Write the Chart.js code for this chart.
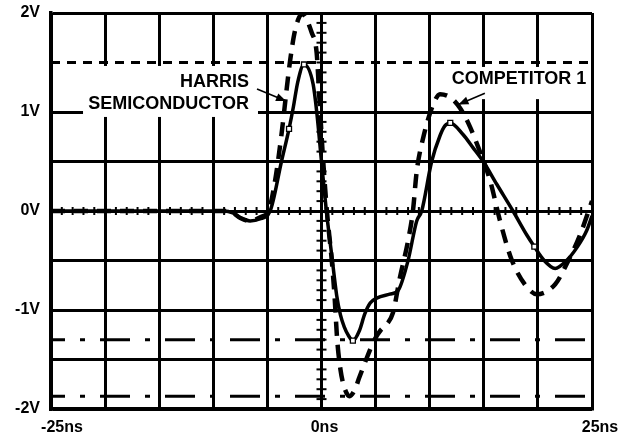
<!DOCTYPE html>
<html>
<head>
<title>Harris vs Competitor</title>
<script src="https://cdn.jsdelivr.net/npm/chart.js"></script>
<style>
  body { margin: 0; background: #fff; }
  #wrap { width: 635px; height: 438px; }
</style>
</head>
<body>
<div id="wrap"><canvas id="scope" width="635" height="438"></canvas></div>
<script>
// time in ns, level in V
const harrisT = [-25, -9, -8.2, -7.5, -6.6, -5.7, -4.75, -3.7, -3.0, -2.6, -2.2, -1.62, -0.77, -0.44, 0, 0.45, 0.95, 1.4, 1.75, 2.1, 2.5, 2.9, 3.5, 4.0, 4.5, 5.1, 6.3, 7.1, 8.0, 8.8, 9.26, 10.18, 10.95, 11.4, 11.9, 13.1, 14.0, 14.95, 16.2, 17.7, 18.96, 19.67, 20.5, 21.6, 22.65, 23.6, 24.5, 25];
const harrisV = [0, 0, -0.02, -0.07, -0.1, -0.08, 0, 0.5, 0.83, 1.05, 1.3, 1.48, 1.28, 1.0, 0.5, 0, -0.45, -0.85, -1.05, -1.17, -1.26, -1.31, -1.21, -1.04, -0.93, -0.88, -0.84, -0.8, -0.5, -0.1, 0, 0.5, 0.76, 0.86, 0.89, 0.77, 0.64, 0.5, 0.27, 0, -0.24, -0.36, -0.49, -0.58, -0.5, -0.37, -0.2, -0.05];

const compT = [-25, -9, -8.2, -7.5, -6.6, -5.6, -4.9, -4.3, -3.7, -3.2, -2.9, -2.45, -1.8, -0.9, -0.45, -0.2, 0.1, 0.5, 0.95, 1.2, 1.45, 1.75, 2.1, 2.6, 3.1, 3.5, 4.2, 4.9, 5.5, 6.0, 6.6, 7.25, 8.0, 8.45, 8.8, 9.4, 10.2, 10.95, 12.0, 12.8, 13.6, 14.5, 15.6, 16.5, 17.6, 19.0, 19.9, 21.6, 22.5, 23.9, 25];
const compV = [0, 0, -0.02, -0.07, -0.1, -0.06, 0, 0.3, 0.77, 1.25, 1.52, 1.82, 1.99, 1.8, 1.6, 1.15, 0.6, 0, -0.5, -0.85, -1.3, -1.6, -1.78, -1.87, -1.8, -1.68, -1.48, -1.3, -1.2, -1.15, -1.03, -0.67, -0.3, 0, 0.4, 0.74, 1.04, 1.18, 1.14, 1.04, 0.88, 0.64, 0.3, -0.1, -0.5, -0.77, -0.84, -0.74, -0.57, -0.24, 0.1];

// square markers on the Harris trace
const markT = [-3.0, -1.62, 2.9, 11.9, 19.67];
const markV = [0.83, 1.48, -1.31, 0.89, -0.36];

// reference levels
const dashedLevel = 1.5;
const dashDotLevels = [-1.3, -1.87];

const yTicks = [-2, -1, 0, 1, 2];
const xTickValues = [-25, 0, 25];
const xTickLabels = ['-25ns', '0ns', '25ns'];

const FONT = '"Liberation Sans", Arial, sans-serif';

const pts = (xs, ys) => xs.map((x, i) => ({ x: x, y: ys[i] }));
const level = v => [{ x: -25, y: v }, { x: 25, y: v }];

const datasets = [
  {
    label: 'markers', data: pts(markT, markV), showLine: false,
    pointStyle: 'rect', pointRadius: 3.5, pointBackgroundColor: '#fff',
    pointBorderColor: '#000', pointBorderWidth: 1.3
  },
  {
    label: 'HARRIS SEMICONDUCTOR', data: pts(harrisT, harrisV),
    borderColor: '#000', borderWidth: 3.5, pointRadius: 0,
    cubicInterpolationMode: 'monotone'
  },
  {
    label: 'COMPETITOR 1', data: pts(compT, compV),
    borderColor: '#000', borderWidth: 4.5, borderDash: [14, 9], pointRadius: 0,
    cubicInterpolationMode: 'monotone'
  },
  {
    label: 'level', data: level(dashedLevel), borderColor: '#000',
    borderWidth: 3, borderDash: [9, 7], pointRadius: 0
  }
];
dashDotLevels.forEach(v => datasets.push({
  label: 'level', data: level(v), borderColor: '#000',
  borderWidth: 3, borderDash: [30, 15, 5, 15], borderDashOffset: 16, pointRadius: 0
}));

function seg(ctx, x1, y1, x2, y2) {
  ctx.beginPath(); ctx.moveTo(x1, y1); ctx.lineTo(x2, y2); ctx.stroke();
}

function arrow(ctx, x1, y1, x2, y2) {
  ctx.lineWidth = 1.6;
  seg(ctx, x1, y1, x2, y2);
  const a = Math.atan2(y2 - y1, x2 - x1), len = 10, w = 4;
  ctx.beginPath();
  ctx.moveTo(x2, y2);
  ctx.lineTo(x2 - len * Math.cos(a) + w * Math.sin(a), y2 - len * Math.sin(a) - w * Math.cos(a));
  ctx.lineTo(x2 - len * Math.cos(a) - w * Math.sin(a), y2 - len * Math.sin(a) + w * Math.cos(a));
  ctx.closePath();
  ctx.fill();
}

const overlay = {
  id: 'overlay',
  beforeDatasetsDraw(chart) {
    const { ctx, scales: { x, y } } = chart;
    ctx.save();
    ctx.strokeStyle = '#000';
    ctx.lineWidth = 2;
    const y0 = y.getPixelForValue(0), x0 = x.getPixelForValue(0);
    for (let t = -25; t <= 25; t++) {
      const px = x.getPixelForValue(t);
      seg(ctx, px, y0 - 4, px, y0 + 4);
    }
    for (let k = -20; k <= 20; k++) {
      const py = y.getPixelForValue(k / 10);
      seg(ctx, x0 - 5, py, x0 + 5, py);
    }
    // white label boxes
    ctx.fillStyle = '#fff';
    const box = (t1, v1, t2, v2) => {
      const l = x.getPixelForValue(t1), r = x.getPixelForValue(t2);
      const tp = y.getPixelForValue(v1), bt = y.getPixelForValue(v2);
      ctx.fillRect(l, tp, r - l, bt - tp);
    };
    box(-22.04, 1.465, -5.87, 0.95);
    box(11.6, 1.455, 24.8, 1.13);
    ctx.restore();
  },
  afterDatasetsDraw(chart) {
    const { ctx, scales: { x, y } } = chart;
    ctx.save();
    ctx.fillStyle = '#000';
    ctx.strokeStyle = '#000';
    ctx.font = 'bold 18px ' + FONT;
    ctx.textBaseline = 'middle';
    ctx.textAlign = 'right';
    ctx.fillText('HARRIS', x.getPixelForValue(-6.7), y.getPixelForValue(1.30));
    ctx.fillText('SEMICONDUCTOR', x.getPixelForValue(-6.7), y.getPixelForValue(1.076));
    ctx.textAlign = 'left';
    ctx.fillText('COMPETITOR 1', x.getPixelForValue(12.03), y.getPixelForValue(1.33));
    arrow(ctx, x.getPixelForValue(-5.96), y.getPixelForValue(1.232), x.getPixelForValue(-3.28), y.getPixelForValue(1.111));
    arrow(ctx, x.getPixelForValue(15.1), y.getPixelForValue(1.19), x.getPixelForValue(12.66), y.getPixelForValue(1.076));

    // x tick labels, pulled inward at the ends like the original
    ctx.font = 'bold 16px ' + FONT;
    ctx.textAlign = 'center';
    const nudge = [11, 3, 8];
    xTickValues.forEach((v, i) => {
      ctx.fillText(xTickLabels[i], x.getPixelForValue(v) + nudge[i], chart.chartArea.bottom + 19);
    });
    ctx.restore();
  }
};

new Chart(document.getElementById('scope'), {
  type: 'line',
  data: { datasets: datasets },
  plugins: [overlay],
  options: {
    responsive: false,
    devicePixelRatio: 1,
    animation: false,
    layout: { padding: { top: 13, right: 43, left: 0, bottom: 0 } },
    plugins: { legend: { display: false }, tooltip: { enabled: false } },
    scales: {
      x: {
        type: 'linear', min: -25, max: 25,
        afterFit: s => { s.height = 29; s.paddingLeft = 0; s.paddingRight = 0; },
        ticks: { stepSize: 5, callback: () => '' },
        grid: { color: '#000', lineWidth: 3, drawTicks: false },
        border: { display: true, color: '#000', width: 3.5 }
      },
      y: {
        min: -2, max: 2,
        afterFit: s => { s.width = 51; s.paddingTop = 0; s.paddingBottom = 0; },
        ticks: {
          stepSize: 0.5, padding: 11, color: '#000',
          font: { family: FONT, size: 16, weight: 'bold' },
          callback: v => yTicks.includes(v) ? v + 'V' : ''
        },
        // the 1.5V row is the dashed level line, not a grid line
        grid: {
          color: c => (c.tick && c.tick.value === dashedLevel) ? 'rgba(0,0,0,0)' : '#000',
          lineWidth: 3, drawTicks: false
        },
        border: { display: true, color: '#000', width: 3.5 }
      }
    }
  }
});
</script>
</body>
</html>
